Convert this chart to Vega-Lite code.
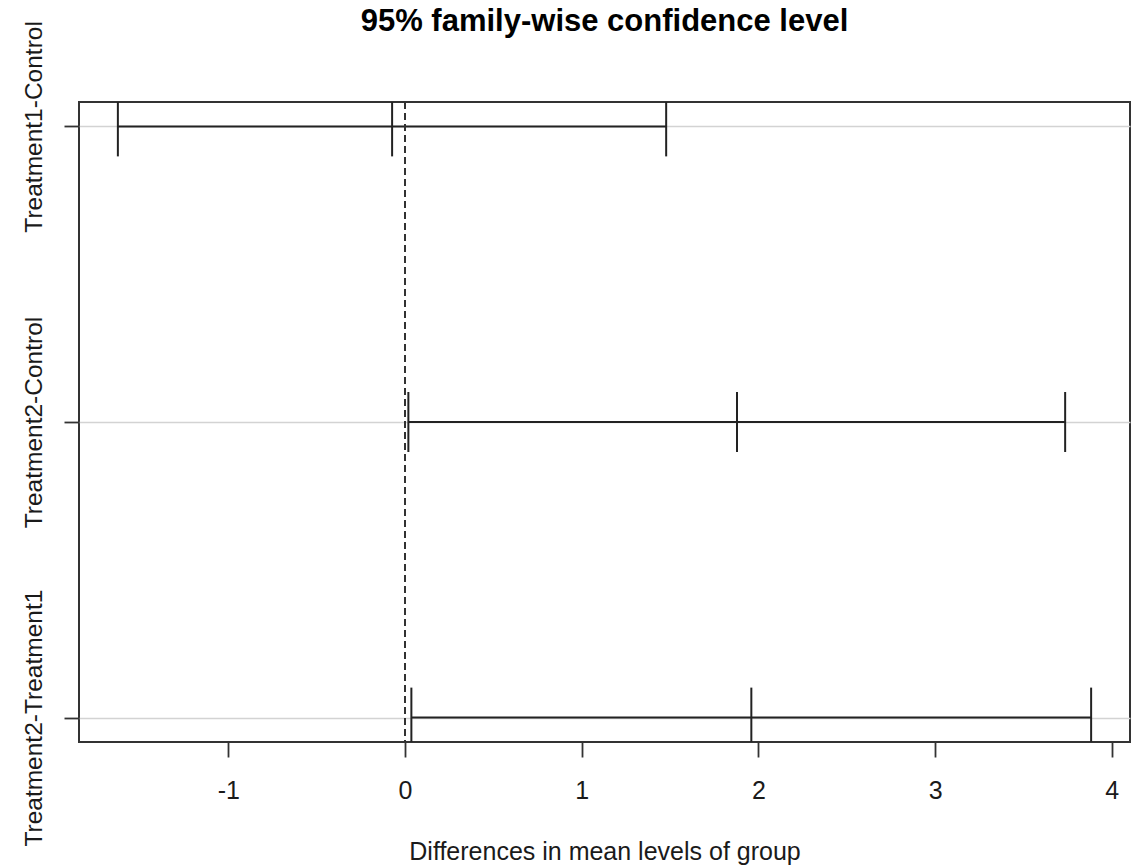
{
  "$schema": "https://vega.github.io/schema/vega-lite/v6.json",
  "autosize": "none",
  "width": 1051,
  "height": 640,
  "padding": {"left": 79, "top": 102, "right": 5, "bottom": 123},
  "background": "white",
  "title": {
    "text": "95% family-wise confidence level",
    "font": "Liberation Sans",
    "fontSize": 31,
    "fontWeight": "bold",
    "color": "#000000",
    "anchor": "middle",
    "frame": "group",
    "baseline": "alphabetic",
    "offset": 0,
    "dy": 41.5
  },
  "data": {
    "values": [
      {"comparison": "Treatment1-Control", "lwr": -1.625, "diff": -0.073, "upr": 1.478},
      {"comparison": "Treatment2-Control", "lwr": 0.019, "diff": 1.879, "upr": 3.736},
      {"comparison": "Treatment2-Treatment1", "lwr": 0.036, "diff": 1.96, "upr": 3.883}
    ]
  },
  "encoding": {
    "y": {
      "field": "comparison",
      "type": "nominal",
      "sort": ["Treatment1-Control", "Treatment2-Control", "Treatment2-Treatment1"],
      "scale": {"type": "point", "padding": 0.0825},
      "axis": {
        "title": null,
        "domain": false,
        "grid": true,
        "gridColor": "#d3d3d3",
        "gridWidth": 1.5,
        "ticks": true,
        "tickSize": 15,
        "tickColor": "#333333",
        "tickWidth": 1.8,
        "labelAngle": 270,
        "labelAlign": "center",
        "labelBaseline": "alphabetic",
        "labelPadding": 23,
        "labelFont": "Liberation Sans",
        "labelFontSize": 24.5,
        "labelColor": "#1a1a1a",
        "labelOverlap": false,
        "labelLimit": 0
      }
    }
  },
  "layer": [
    {
      "mark": {"type": "rule", "color": "#222222", "strokeWidth": 2},
      "encoding": {
        "x": {
          "field": "lwr",
          "type": "quantitative",
          "scale": {"domain": [-1.845, 4.103], "nice": false, "zero": false},
          "axis": {
            "title": "Differences in mean levels of group",
            "titleFont": "Liberation Sans",
            "titleFontSize": 25,
            "titleFontWeight": "normal",
            "titleColor": "#1a1a1a",
            "titleBaseline": "alphabetic",
            "titleY": 117,
            "values": [-1, 0, 1, 2, 3, 4],
            "labelExpr": "toString(datum.value)",
            "domain": false,
            "grid": false,
            "tickSize": 15,
            "tickColor": "#333333",
            "tickWidth": 1.8,
            "labelBaseline": "top",
            "labelPadding": 21.5,
            "labelFont": "Liberation Sans",
            "labelFontSize": 25,
            "labelColor": "#1a1a1a",
            "labelFlush": false,
            "labelOverlap": false
          }
        },
        "x2": {"field": "upr"}
      }
    },
    {
      "transform": [{"fold": ["lwr", "diff", "upr"], "as": ["stat", "value"]}],
      "mark": {"type": "tick", "orient": "vertical", "color": "#222222", "opacity": 1, "size": 60, "thickness": 2, "clip": true},
      "encoding": {
        "x": {"field": "value", "type": "quantitative"}
      }
    },
    {
      "mark": {"type": "rule", "color": "#333333", "strokeWidth": 1.8, "strokeDash": [7, 4]},
      "encoding": {
        "x": {"datum": 0, "type": "quantitative"},
        "y": null
      }
    }
  ],
  "config": {
    "view": {"stroke": "#333333", "strokeWidth": 2},
    "tick": {"bandSize": 60}
  }
}
